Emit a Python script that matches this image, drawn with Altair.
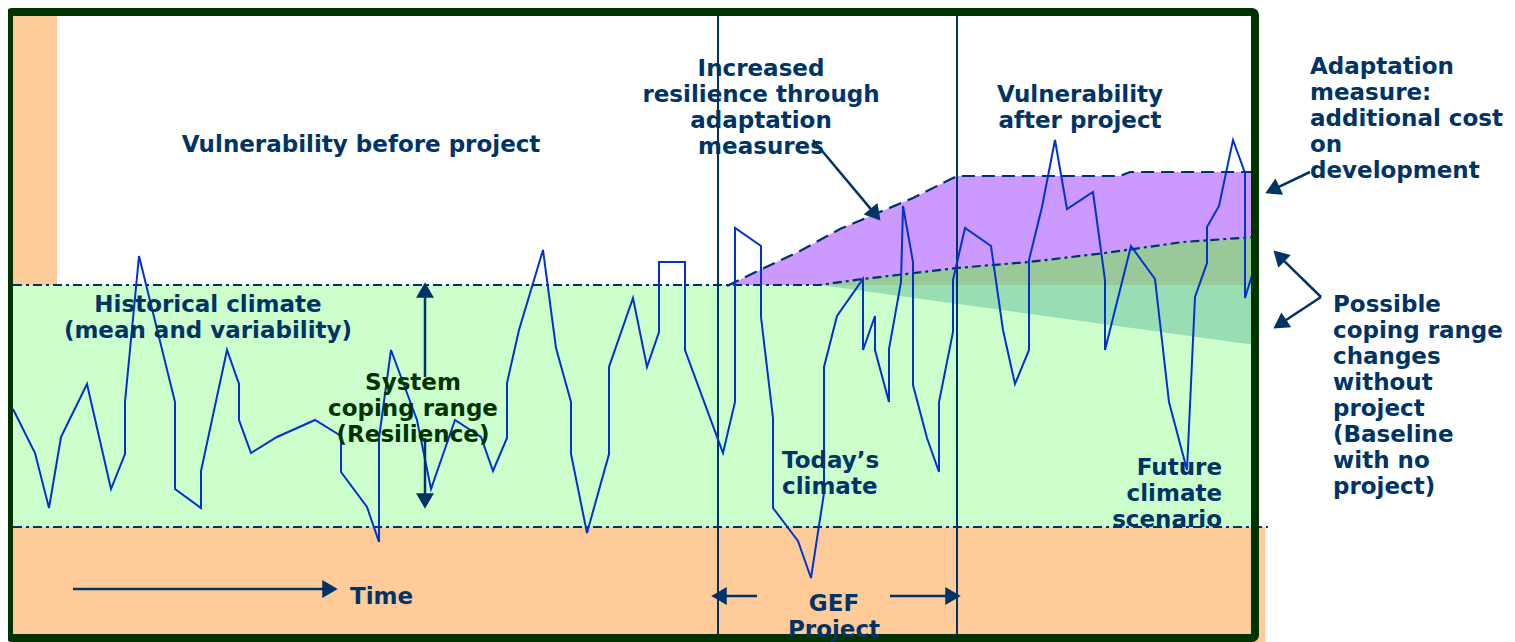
import math
import altair as alt
import pandas as pd

# ---------------- data (diagram units: time along x, level along y, 0 at top) -------------
DOMAIN_X = [8, 1507]
DOMAIN_Y = [8, 642]
PLOT_W, PLOT_H = 1499, 634

# climate variability series (time, level)
climate_t = [13, 35, 49, 61, 87, 111, 125, 125, 139, 175, 175, 201, 201, 227, 239, 239, 251, 277,
             315, 341, 341, 367, 379, 379, 391, 417, 431, 455, 481, 493, 507, 507, 519, 543, 556,
             571, 571, 587, 609, 609, 633, 647, 659, 659, 685, 685, 723, 735, 735, 761, 761, 773,
             773, 798, 811, 824, 824, 837, 863, 863, 875, 875, 889, 889, 901, 903, 913, 913, 927,
             939, 939, 953, 953, 965, 991, 1003, 1015, 1029, 1029, 1042, 1055, 1067, 1093, 1105,
             1105, 1131, 1155, 1169, 1187, 1195, 1207, 1207, 1219, 1233, 1245, 1245, 1253]
climate_v = [409, 453, 508, 437, 384, 489, 454, 402, 256, 402, 489, 508, 471, 350, 384, 420, 453,
             437, 420, 436, 472, 507, 542, 438, 350, 420, 489, 420, 437, 471, 438, 383, 330, 250,
             348, 402, 454, 533, 454, 367, 298, 367, 332, 262, 262, 350, 453, 402, 228, 246, 317,
             418, 508, 541, 578, 493, 367, 316, 279, 350, 316, 350, 402, 349, 282, 206, 262, 385,
             438, 472, 402, 332, 280, 228, 246, 330, 384, 350, 260, 207, 140, 209, 192, 280, 350,
             246, 279, 402, 470, 297, 263, 227, 206, 140, 173, 298, 272]

# coping range boundaries
coping_upper = 285
coping_lower = 527
# baseline (no project) upper coping boundary
baseline_t = [13, 820, 863, 957, 1029, 1105, 1183, 1255]
baseline_v = [285, 285, 279, 268, 262, 253, 242, 237]
# adapted (with project) upper boundary
adapted_t = [727, 760, 800, 840, 880, 913, 957, 1120, 1130, 1255]
adapted_v = [286, 270, 251, 229, 212, 198, 176, 176, 172, 172]
# possible lower shift of coping range without project
shift_t = [820, 1255]
shift_top = [285, 285]
shift_bottom = [285, 345]

# GEF project period
project_start = 718
project_end = 957

# bands (x1, x2, y1, y2, colour)
band_x1 = [13, 13, 13]
band_x2 = [57, 1255, 1265]
band_y1 = [16, 285, 527]
band_y2 = [285, 527, 642]
band_col = ["#FFCC99", "#CCFFCC", "#FFCC99"]

# arrows (from x, from y, to x, to y)
arrow_x1 = [73, 425, 425, 757, 890, 813, 1310, 1321, 1321]
arrow_y1 = [589, 377, 438, 596, 596, 140, 172, 297, 297]
arrow_x2 = [337, 425, 425, 712, 960, 880, 1266, 1274, 1274]
arrow_y2 = [589, 283, 508, 596, 596, 220, 193, 251, 328]

# text labels
label_text = [
    "Vulnerability before project",
    "Increased\nresilience through\nadaptation\nmeasures",
    "Vulnerability\nafter project",
    "Adaptation\nmeasure:\nadditional cost\non\ndevelopment",
    "Possible\ncoping range\nchanges\nwithout\nproject\n(Baseline\nwith no\nproject)",
    "Historical climate\n(mean and variability)",
    "System\ncoping range\n(Resilience)",
    "Today\u2019s\nclimate",
    "Future\nclimate\nscenario",
    "Time",
    "GEF\nProject",
]
label_x = [361, 761, 1080, 1310, 1333, 208, 413, 782, 1222, 350, 834]
label_y = [145, 69, 95, 67, 305, 305, 383, 461, 468, 597, 604]
label_align = ["center", "center", "center", "left", "left", "center", "center", "left",
               "right", "left", "center"]
label_col = ["#003366"] * 6 + ["#003300"] + ["#003366"] * 4

NAVY = "#003366"
LINE_H = 26
FONT = "DejaVu Sans"
FSIZE = 23

# ---------------- chart -------------------------------------------------------------------
xs = alt.Scale(domain=DOMAIN_X, nice=False, zero=False)
ys = alt.Scale(domain=DOMAIN_Y, nice=False, zero=False, reverse=True)


def X(f):
    return alt.X(f, type="quantitative", scale=xs, axis=None)


def Y(f):
    return alt.Y(f, type="quantitative", scale=ys, axis=None)


layers = []

bands = pd.DataFrame(dict(x1=band_x1, x2=band_x2, y1=band_y1, y2=band_y2, c=band_col))
layers.append(alt.Chart(bands).mark_rect().encode(
    x=X("x1"), x2="x2", y=Y("y1"), y2="y2", color=alt.Color("c:N", scale=None)))

purple = pd.DataFrame(dict(t=adapted_t, top=adapted_v, bot=[coping_upper] * len(adapted_t)))
layers.append(alt.Chart(purple).mark_area(color="#CC99FF", opacity=1).encode(
    x=X("t"), y=Y("top"), y2="bot"))

olive = pd.DataFrame(dict(t=baseline_t[1:], top=baseline_v[1:],
                          bot=[coping_upper] * (len(baseline_t) - 1)))
layers.append(alt.Chart(olive).mark_area(color="#99C899", opacity=1).encode(
    x=X("t"), y=Y("top"), y2="bot"))

teal = pd.DataFrame(dict(t=shift_t, top=shift_top, bot=shift_bottom))
layers.append(alt.Chart(teal).mark_area(color="#99DDB4", opacity=1).encode(
    x=X("t"), y=Y("top"), y2="bot"))

# dash-dot boundaries
dd1 = pd.DataFrame(dict(t=baseline_t, v=baseline_v, i=range(len(baseline_t))))
dd2 = pd.DataFrame(dict(t=[13, 1268], v=[coping_lower, coping_lower], i=[0, 1]))
for d in (dd1, dd2):
    layers.append(alt.Chart(d).mark_line(color=NAVY, strokeWidth=2.2,
                                         strokeDash=[9, 4, 3, 4]).encode(
        x=X("t"), y=Y("v"), order="i:Q"))

dashed = pd.DataFrame(dict(t=adapted_t, v=adapted_v, i=range(len(adapted_t))))
layers.append(alt.Chart(dashed).mark_line(color=NAVY, strokeWidth=2.2, strokeDash=[13, 7]).encode(
    x=X("t"), y=Y("v"), order="i:Q"))

vlines = pd.DataFrame(dict(t=[project_start, project_end], y1=[16, 16], y2=[642, 642]))
layers.append(alt.Chart(vlines).mark_rule(color=NAVY, strokeWidth=2).encode(
    x=X("t"), y=Y("y1"), y2="y2"))

clim = pd.DataFrame(dict(t=climate_t, v=climate_v, i=range(len(climate_t))))
layers.append(alt.Chart(clim).mark_line(color="#0033CC", strokeWidth=2).encode(
    x=X("t"), y=Y("v"), order="i:Q"))

border = pd.DataFrame(dict(x1=[9], x2=[1255], y1=[12], y2=[638]))
layers.append(alt.Chart(border).mark_rect(fillOpacity=0, stroke="#003300", strokeWidth=8,
                                          cornerRadius=3).encode(
    x=X("x1"), x2="x2", y=Y("y1"), y2="y2"))

# arrows
rows, heads = [], []
for x1, y1, x2, y2 in zip(arrow_x1, arrow_y1, arrow_x2, arrow_y2):
    L = math.hypot(x2 - x1, y2 - y1)
    ux, uy = (x2 - x1) / L, (y2 - y1) / L
    rows.append(dict(x1=x1, y1=y1, x2=x2 - ux * 9, y2=y2 - uy * 9))
    ang = (math.degrees(math.atan2(ux, -uy)) + 360) % 360
    heads.append(dict(hx=x2 - ux * 7, hy=y2 - uy * 7, ang=ang))
layers.append(alt.Chart(pd.DataFrame(rows)).mark_rule(color=NAVY, strokeWidth=2.5).encode(
    x=X("x1"), y=Y("y1"), x2="x2", y2="y2"))
layers.append(alt.Chart(pd.DataFrame(heads)).mark_point(
    shape="triangle-up", filled=True, color=NAVY, opacity=1, size=320, strokeWidth=0).encode(
    x=X("hx"), y=Y("hy"), angle=alt.Angle("ang:Q", scale=None)))

# labels (y is the first line's centre)
for txt, lx, ly, al, col in zip(label_text, label_x, label_y, label_align, label_col):
    d = pd.DataFrame(dict(t=[lx], v=[ly], s=[txt]))
    layers.append(alt.Chart(d).mark_text(
        align=al, baseline="middle", lineBreak="\n", lineHeight=LINE_H, font=FONT,
        fontSize=FSIZE, fontWeight="bold", color=col).encode(
        x=X("t"), y=Y("v"), text="s:N"))

chart = alt.layer(*layers).properties(
    width=PLOT_W, height=PLOT_H,
    padding=0, autosize=alt.AutoSizeParams(type="none"), background="white"
).configure_view(stroke=None)

chart.save("out.html", embed_options={"renderer": "svg", "actions": False})
